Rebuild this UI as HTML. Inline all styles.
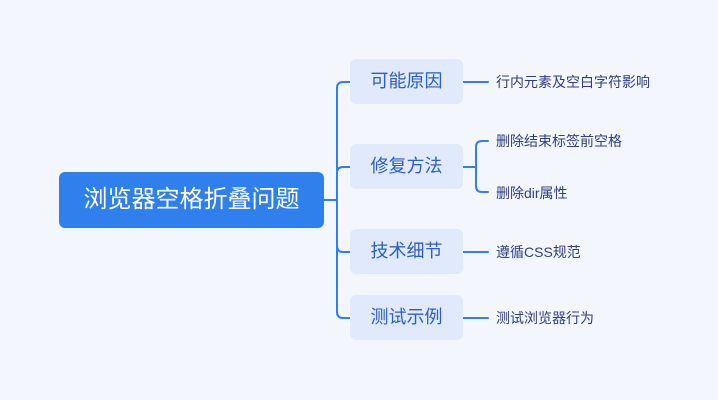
<!DOCTYPE html>
<html>
<head>
<meta charset="utf-8">
<style>
  html,body{margin:0;padding:0;}
  body{width:718px;height:400px;background:#f4f6fe;position:relative;overflow:hidden;
    font-family:"Liberation Sans","Noto Sans CJK SC",sans-serif;}
  .root{position:absolute;left:59px;top:172px;width:265px;height:56px;background:#2f80ed;border-radius:6px;
    color:#fff;font-size:24px;line-height:56px;text-align:center;}
  .child{position:absolute;left:350px;width:113px;height:45px;background:#e1e9fc;border-radius:6px;
    color:#2b5fc4;font-size:18px;line-height:45px;text-align:center;}
  .leaf{position:absolute;left:496px;font-size:14px;color:#2e3f80;height:20px;line-height:20px;white-space:nowrap;}
  svg{position:absolute;left:0;top:0;}
</style>
</head>
<body>
<svg width="718" height="400" viewBox="0 0 718 400">
  <g fill="none" stroke="#2f80ed" stroke-width="2" stroke-linecap="round">
    <path d="M324 200 H337"/>
    <path d="M337 200 V88 Q337 82 343 82 H350"/>
    <path d="M337 200 V173 Q337 167 343 167 H350"/>
    <path d="M337 200 V246 Q337 252 343 252 H350"/>
    <path d="M337 200 V312 Q337 318 343 318 H350"/>
    <path d="M463 82 H488"/>
    <path d="M463 167 H476"/>
    <path d="M476 167 V147 Q476 141 482 141 H488"/>
    <path d="M476 167 V186 Q476 192 482 192 H488"/>
    <path d="M463 252 H488"/>
    <path d="M463 318 H488"/>
  </g>
</svg>
<div class="root">浏览器空格折叠问题</div>
<div class="child" style="top:59px;">可能原因</div>
<div class="child" style="top:144px;">修复方法</div>
<div class="child" style="top:229px;">技术细节</div>
<div class="child" style="top:295px;">测试示例</div>
<div class="leaf" style="top:72px;">行内元素及空白字符影响</div>
<div class="leaf" style="top:131px;">删除结束标签前空格</div>
<div class="leaf" style="top:183px;">删除dir属性</div>
<div class="leaf" style="top:242px;">遵循CSS规范</div>
<div class="leaf" style="top:308px;">测试浏览器行为</div>
</body>
</html>
